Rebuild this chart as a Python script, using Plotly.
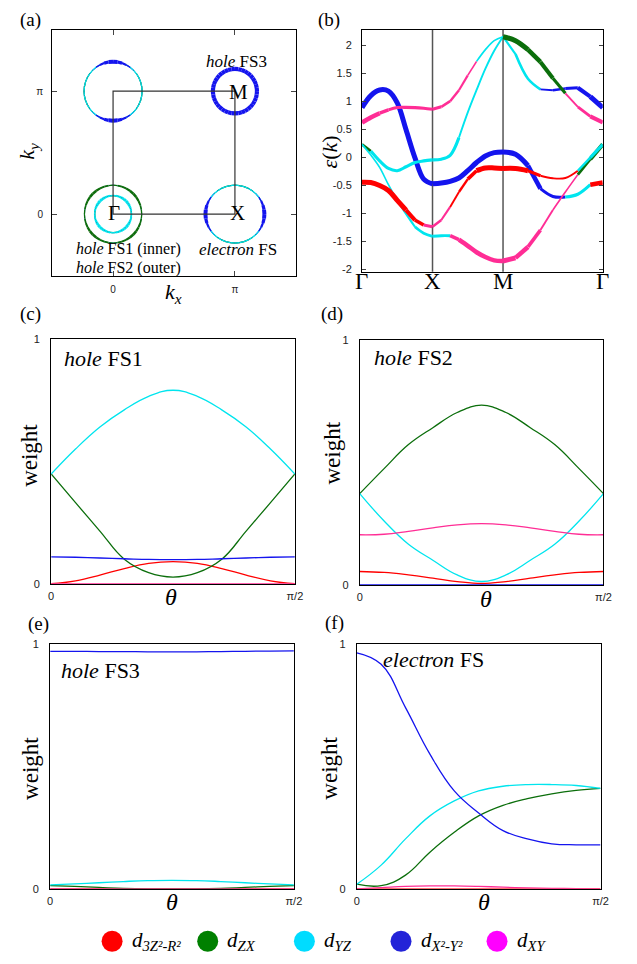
import numpy as np
import plotly.graph_objects as go

W, H = 637, 964
SERIF = "Liberation Serif"
SANS = "Liberation Sans"

# ---------------------------------------------------------------- data
ORBITALS = ["d3z2", "dzx", "dyz", "dx2y2", "dxy"]
ORB_CODE = {"R": "d3z2", "G": "dzx", "C": "dyz", "B": "dx2y2", "M": "dxy"}
CURVE_COLOR = {"d3z2": "#ff0000", "dzx": "#0b6e0b", "dyz": "#00e5ee",
               "dx2y2": "#1414ee", "dxy": "#ff2d95"}
SWATCH_COLOR = ["#ff0000", "#008000", "#00dcff", "#2323d8", "#ff00ff"]
ORBITAL_LABELS = ["<i>d</i><sub><i>3Z²-R²</i></sub>",
                  "<i>d</i><sub><i>ZX</i></sub>",
                  "<i>d</i><sub><i>YZ</i></sub>",
                  "<i>d</i><sub><i>X²-Y²</i></sub>",
                  "<i>d</i><sub><i>XY</i></sub>"]

# angle along each Fermi surface, in units of pi/2
theta_frac = [0.0, 0.1, 0.2, 0.3, 0.4, 0.5, 0.6, 0.7, 0.8, 0.9, 1.0]

hole_fs1 = {
    "d3z2":  [0.0, 0.012, 0.035, 0.062, 0.083, 0.09, 0.083, 0.062, 0.035, 0.012, 0.0],
    "dzx":   [0.448, 0.331, 0.215, 0.10, 0.045, 0.027, 0.045, 0.10, 0.215, 0.331, 0.448],
    "dyz":   [0.448, 0.55, 0.64, 0.71, 0.765, 0.79, 0.765, 0.71, 0.64, 0.55, 0.448],
    "dx2y2": [0.11, 0.108, 0.105, 0.102, 0.099, 0.098, 0.099, 0.102, 0.105, 0.108, 0.11],
    "dxy":   [0.0, 0.0, 0.0, 0.0, 0.0, 0.0, 0.0, 0.0, 0.0, 0.0, 0.0],
}
hole_fs2 = {
    "d3z2":  [0.054, 0.05, 0.04, 0.027, 0.013, 0.005, 0.013, 0.027, 0.04, 0.05, 0.054],
    "dzx":   [0.372, 0.474, 0.572, 0.641, 0.703, 0.733, 0.703, 0.641, 0.572, 0.474, 0.372],
    "dyz":   [0.372, 0.26, 0.165, 0.10, 0.04, 0.013, 0.04, 0.10, 0.165, 0.26, 0.372],
    "dx2y2": [0.0, 0.0, 0.0, 0.0, 0.0, 0.0, 0.0, 0.0, 0.0, 0.0, 0.0],
    "dxy":   [0.204, 0.206, 0.218, 0.232, 0.244, 0.249, 0.244, 0.232, 0.218, 0.206, 0.204],
}
hole_fs3 = {
    "d3z2":  [0.0, 0.0, 0.0, 0.0, 0.0, 0.0, 0.0, 0.0, 0.0, 0.0, 0.0],
    "dzx":   [0.013, 0.01, 0.006, 0.002, 0.0, 0.0, 0.0, 0.002, 0.006, 0.01, 0.013],
    "dyz":   [0.016, 0.02, 0.025, 0.03, 0.034, 0.035, 0.034, 0.03, 0.025, 0.02, 0.016],
    "dx2y2": [0.970, 0.970, 0.969, 0.969, 0.968, 0.968, 0.968, 0.969, 0.970, 0.971, 0.972],
    "dxy":   [0.0, 0.0, 0.0, 0.0, 0.0, 0.0, 0.0, 0.0, 0.0, 0.0, 0.0],
}
electron_fs = {
    "d3z2":  [0.0, 0.0, 0.0, 0.0, 0.0, 0.0, 0.0, 0.0, 0.0, 0.0, 0.0],
    "dzx":   [0.019, 0.013, 0.056, 0.15, 0.231, 0.298, 0.341, 0.368, 0.388, 0.402, 0.41],
    "dyz":   [0.019, 0.097, 0.204, 0.298, 0.359, 0.40, 0.419, 0.426, 0.426, 0.422, 0.41],
    "dx2y2": [0.964, 0.917, 0.74, 0.55, 0.40, 0.31, 0.238, 0.204, 0.184, 0.18, 0.18],
    "dxy":   [0.0, 0.005, 0.01, 0.012, 0.012, 0.01, 0.007, 0.004, 0.002, 0.001, 0.0],
}

# Fermi-surface pockets in the (kx, ky) plane, units of pi
fs_names = ["hole FS1", "hole FS2", "hole FS3", "electron FS (X)", "electron FS (Y)"]
fs_center_x = [0.0, 0.0, 1.0, 1.0, 0.0]
fs_center_y = [0.0, 0.0, 1.0, 0.0, 1.0]
fs_radius_x = [0.151, 0.235, 0.181, 0.242, 0.238]
fs_radius_y = [0.151, 0.235, 0.181, 0.235, 0.240]

# band energies along G-X-M-G (9 k-points per segment, shared corners)
band_energy = [
    [0.886, 1.10, 1.20, 1.18, 0.97, 0.49, -0.006, -0.39, -0.475,
     -0.46, -0.43, -0.37, -0.24, -0.094, 0.023, 0.082, 0.094,
     0.053, -0.15, -0.56, -0.70, -0.71, -0.66, -0.49, -0.452],
    [0.62, 0.71, 0.786, 0.845, 0.886, 0.89, 0.886, 0.874, 0.856,
     0.90, 1.0, 1.196, 1.46, 1.71, 1.92, 2.08, 2.15,
     1.84, 1.40, 1.21, 1.196, 1.226, 1.24, 1.08, 0.886],
    [0.229, 0.11, -0.065, -0.2, -0.24, -0.17, -0.094, -0.065, -0.047,
     -0.035, 0.035, 0.35, 0.80, 1.20, 1.58, 1.90, 2.15,
     2.08, 1.92, 1.70, 1.41, 1.14, 0.90, 0.73, 0.62],
    [0.229, 0.04, -0.18, -0.49, -0.77, -1.01, -1.24, -1.355, -1.41,
     -1.40, -1.40, -1.47, -1.58, -1.695, -1.78, -1.84, -1.85,
     -1.795, -1.60, -1.30, -0.94, -0.62, -0.31, -0.035, 0.229],
    [-0.446, -0.452, -0.504, -0.592, -0.768, -0.944, -1.12, -1.21, -1.24,
     -1.12, -0.886, -0.62, -0.39, -0.24, -0.19, -0.19, -0.20,
     -0.20, -0.24, -0.33, -0.375, -0.37, -0.24, -0.006, 0.229],
]
# dominant orbital at each k-point
band_orbital = [
    "BBBBBBBBB" + "BBBBBBBB" + "BBBBCCRR",
    "MMMMMMMMM" + "MMMMCCCC" + "CCBBBBBB",
    "GCCCCCCCC" + "CCCCCCCG" + "GGGGMMMM",
    "CCCCCCCCC" + "CMMMMMMM" + "MMMMMGGG",
    "RRRRRRRMM" + "MRRRRRRR" + "RRRRRCCC",
]
# weight of that orbital at each k-point
band_weight = [
    [0.9] * 9 + [0.9] * 8 + [0.9, 0.8, 0.5, 0.5, 0.5, 0.5, 0.8, 0.9],
    [0.8, 0.8, 0.6, 0.5, 0.5, 0.5, 0.5, 0.5, 0.5]
    + [0.4, 0.35, 0.3, 0.2, 0.2, 0.2, 0.2, 0.3]
    + [0.4, 0.4, 0.25, 0.4, 0.5, 0.7, 0.9, 0.9],
    [0.4] + [0.5] * 8
    + [0.5, 0.5, 0.25, 0.25, 0.25, 0.25, 0.25, 0.9]
    + [0.9, 0.8, 0.7, 0.5, 0.25, 0.45, 0.7, 0.8],
    [0.2, 0.2, 0.2, 0.2, 0.3, 0.3, 0.45, 0.45, 0.45]
    + [0.45, 0.6, 0.8, 0.8, 0.8, 0.8, 0.8, 0.9]
    + [0.8, 0.6, 0.25, 0.2, 0.2, 0.45, 0.7, 0.7],
    [0.9, 0.9, 0.9, 0.9, 0.9, 0.7, 0.6, 0.5, 0.4]
    + [0.3, 0.25, 0.35, 0.6, 0.9, 0.9, 0.9, 0.9]
    + [0.9, 0.5, 0.25, 0.25, 0.25, 0.35, 0.5, 0.6],
]
k_labels = ["Γ", "X", "M", "Γ"]
energy_ticks = [-2, -1.5, -1, -0.5, 0, 0.5, 1, 1.5, 2]


# ---------------------------------------------------------------- helpers
def px(x):
    return x / W


def py(y):
    return 1 - y / H


fig = go.Figure()
ann = []


def label(text, x, y, size, family=SERIF, angle=0, xanchor="center", yanchor="middle"):
    ann.append(dict(text=text, x=px(x), y=py(y), xref="paper", yref="paper",
                    showarrow=False, textangle=angle, xanchor=xanchor, yanchor=yanchor,
                    font=dict(family=family, size=size, color="black")))


# ---------------------------------------------------------------- (a) Fermi surfaces
# walk once around each pocket through the sampled angles, folding back onto
# the first-quadrant weights by mirror symmetry
theta = np.array(theta_frac) * np.pi / 2
n_t = len(theta)
ring_phi, ring_idx = [], []
for q in range(4):
    order = range(n_t) if q % 2 == 0 else range(n_t - 1, -1, -1)
    for m, i in enumerate(order):
        if q > 0 and m == 0:
            continue
        ring_phi.append(q * np.pi / 2 + (theta[i] if q % 2 == 0 else np.pi / 2 - theta[i]))
        ring_idx.append(i)

# the pocket at (0, pi) is the X pocket turned by 90 degrees
electron_fs_y = {o: electron_fs[o][::-1] for o in ORBITALS}
fs_weights = [hole_fs1, hole_fs2, hole_fs3, electron_fs, electron_fs_y]
draw_rank = {"d3z2": 0, "dxy": 1, "dx2y2": 2, "dzx": 3, "dyz": 4}

for r, wts in enumerate(fs_weights):
    cx, cy, rx, ry = fs_center_x[r], fs_center_y[r], fs_radius_x[r], fs_radius_y[r]
    for k in range(len(ring_idx) - 1):
        i0, i1 = ring_idx[k], ring_idx[k + 1]
        ang = np.linspace(ring_phi[k], ring_phi[k + 1], 5)
        # heaviest orbital drawn last so it sits on top
        seg = sorted(((wts[o][i0] + wts[o][i1]) / 2, draw_rank[o], o) for o in ORBITALS)
        for wm, _, o in seg:
            if wm < 0.06:
                continue
            fig.add_trace(go.Scatter(
                x=cx + rx * np.cos(ang), y=cy + ry * np.sin(ang), mode="lines",
                line=dict(color=CURVE_COLOR[o], width=0.6 + 3.8 * wm * wm),
                xaxis="x", yaxis="y", hoverinfo="skip", showlegend=False))

# ---------------------------------------------------------------- (b) fat bands
k_nodes = [0.0, 1.0, 2.0, 2.0 + np.sqrt(2)]
k_path = np.concatenate([np.linspace(k_nodes[0], k_nodes[1], 9),
                         np.linspace(k_nodes[1], k_nodes[2], 9)[1:],
                         np.linspace(k_nodes[2], k_nodes[3], 9)[1:]])

for E, orb, wt in zip(band_energy, band_orbital, band_weight):
    E = np.array(E)
    for a, b in [(0, 8), (8, 16), (16, 24)]:
        s = a
        for i in range(a + 1, b + 1):
            if i == b or (orb[i], wt[i]) != (orb[s], wt[s]):
                fig.add_trace(go.Scatter(
                    x=k_path[s:i + 1], y=E[s:i + 1], mode="lines",
                    line=dict(color=CURVE_COLOR[ORB_CODE[orb[s]]],
                              width=0.7 + 4.8 * wt[s], shape="spline"),
                    xaxis="x2", yaxis="y2", hoverinfo="skip", showlegend=False))
                s = i

for kx, name in zip(k_nodes, k_labels):
    ann.append(dict(text=name, x=kx, y=py(279), xref="x2", yref="paper", showarrow=False,
                    xanchor="center", yanchor="middle",
                    font=dict(family=SERIF, size=23, color="black")))

# ---------------------------------------------------------------- (c)-(f) weights
panels = [(hole_fs1, "x3", "y3"), (hole_fs2, "x4", "y4"),
          (hole_fs3, "x5", "y5"), (electron_fs, "x6", "y6")]
for wts, xa, ya in panels:
    for o in ORBITALS:
        fig.add_trace(go.Scatter(
            x=theta, y=wts[o], mode="lines",
            line=dict(color=CURVE_COLOR[o], width=1.3, shape="spline", smoothing=1.2),
            xaxis=xa, yaxis=ya, hoverinfo="skip", showlegend=False))

# ---------------------------------------------------------------- orbital key
swatch_x = [111, 208.3, 306.7, 405, 502.7]
fig.add_trace(go.Scatter(
    x=swatch_x, y=[0.5] * 5, mode="markers",
    marker=dict(color=SWATCH_COLOR, size=21, line=dict(width=0)),
    xaxis="x7", yaxis="y7", hoverinfo="skip", showlegend=False))
for xs, txt in zip(swatch_x, ORBITAL_LABELS):
    ann.append(dict(text=txt, x=xs + 18, y=0.5, xref="x7", yref="y7", showarrow=False,
                    xanchor="left", yanchor="middle",
                    font=dict(family=SERIF, size=21, color="black")))

# ---------------------------------------------------------------- text
label("(a)", 27.5, 14, 19)
label("(b)", 331.5, 14, 19)
label("(c)", 27.5, 312, 19)
label("(d)", 335, 312, 19)
label("(e)", 36, 626, 19)
label("(f)", 337, 625, 19)

label("<i>hole</i> FS3", 238, 56, 17)
label("M", 240, 87, 21)
label("Γ", 113, 210, 21)
label("X", 239, 210, 21)
label("<i>hole</i> FS1 (inner)", 128, 246.5, 16)
label("<i>hole</i> FS2 (outer)", 128, 265, 16)
label("<i>electron</i> FS", 239.5, 247, 17)
label("<i>k</i><sub><i>x</i></sub>", 174, 291, 22)
label("<i>k</i><sub><i>y</i></sub>", 26, 147, 22, angle=-90)

label("<i>ε</i>(<i>k</i>)", 332, 148, 22, angle=-90)

for x, y in [(27, 455), (335, 453), (28, 772), (332, 772)]:
    label("weight", x, y, 23, angle=-90)
for x, y in [(171, 598), (491.5, 600), (172, 907), (489, 907)]:
    label("<i>θ</i>", x, y, 24)
label("<i>hole</i> FS1", 60, 357, 22, xanchor="left")
label("<i>hole</i> FS2", 375, 356, 22, xanchor="left")
label("<i>hole</i> FS3", 57, 673, 22, xanchor="left")
label("<i>electron</i> FS", 385, 662, 22, xanchor="left")

# ---------------------------------------------------------------- axes
frame = dict(showline=True, linecolor="black", linewidth=1, mirror=True,
             showgrid=False, zeroline=False)
small = dict(family=SANS, size=11, color="#222")

layout_axes = {}
layout_axes["xaxis"] = dict(frame, domain=[px(50), px(298)], range=[-0.5, 1.5], anchor="y",
                            tickvals=[0, 1], ticktext=["0", "π"], ticks="inside",
                            ticklen=5, mirror="ticks", tickfont=dict(small, size=10),
                            ticklabelstandoff=4)
layout_axes["yaxis"] = dict(frame, domain=[py(273), py(24)], range=[-0.5, 1.5], anchor="x",
                            tickvals=[0, 1], ticktext=["0", "π"], ticks="inside",
                            ticklen=5, mirror="ticks", tickfont=dict(small, size=10),
                            ticklabelstandoff=6)
layout_axes["xaxis2"] = dict(frame, domain=[px(365.3), px(610.3)], range=[0, k_nodes[-1]],
                             anchor="y2", tickvals=k_nodes, showticklabels=False, ticks="")
layout_axes["yaxis2"] = dict(frame, domain=[py(269), py(24.3)], range=[-2.041, 2.27],
                             anchor="x2", tickvals=energy_ticks,
                             ticktext=[f"{v:g}" for v in energy_ticks], ticks="inside",
                             ticklen=4, mirror="ticks", tickfont=small, ticklabelstandoff=7)

weight_boxes = [((49, 297), (337, 585)), ((363, 611), (338, 586)),
                ((48, 296), (646, 894)), ((360, 608), (646, 894))]
for n, ((x0, x1), (y0, y1)) in zip(range(3, 7), weight_boxes):
    layout_axes[f"xaxis{n}"] = dict(frame, domain=[px(x0), px(x1)], range=[0, np.pi / 2],
                                    anchor=f"y{n}", tickvals=[0, np.pi / 2],
                                    ticktext=["0", "π/2"], ticks="", tickfont=small,
                                    ticklabelstandoff=2)
    layout_axes[f"yaxis{n}"] = dict(frame, domain=[py(y1), py(y0)], range=[0, 1],
                                    anchor=f"x{n}", tickvals=[0, 1], ticktext=["0", "1"],
                                    ticks="", tickfont=small, ticklabelstandoff=8)

layout_axes["xaxis7"] = dict(domain=[0, 1], range=[0, W], visible=False, anchor="y7")
layout_axes["yaxis7"] = dict(domain=[0, py(930)], range=[0, 1], visible=False, anchor="x7")

shapes = [
    dict(type="rect", xref="x", yref="y", x0=0, y0=0, x1=1, y1=1,
         line=dict(color="#333", width=1.2)),
    dict(type="line", xref="x2", yref="y2 domain", x0=k_nodes[1], x1=k_nodes[1], y0=0, y1=1,
         line=dict(color="#555", width=1.5), layer="below"),
    dict(type="line", xref="x2", yref="y2 domain", x0=k_nodes[2], x1=k_nodes[2], y0=0, y1=1,
         line=dict(color="#555", width=1.5), layer="below"),
]

fig.update_layout(width=W, height=H, margin=dict(l=0, r=0, t=0, b=0),
                  paper_bgcolor="white", plot_bgcolor="white", showlegend=False,
                  annotations=ann, shapes=shapes, **layout_axes)

fig.write_html("out.html")
